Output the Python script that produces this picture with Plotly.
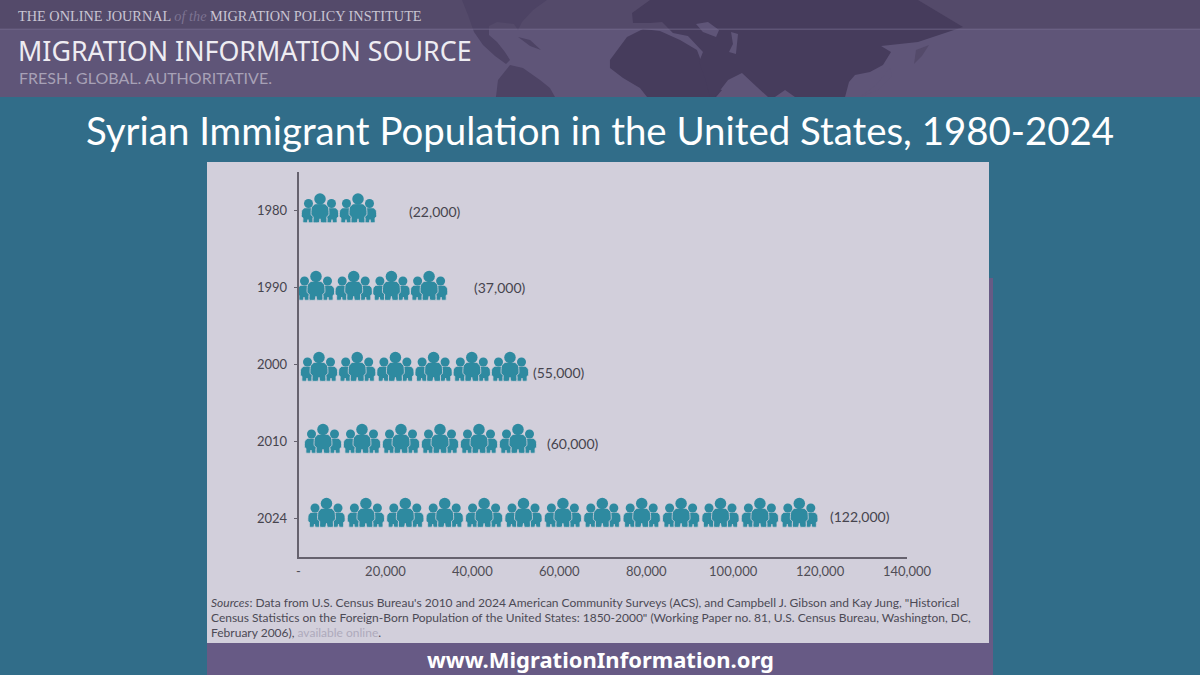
"""Syrian immigrant population in the United States, pictogram slide"""

import plotly.graph_objs as go

# chart data
years = ["1980", "1990", "2000", "2010", "2024"]
population = [22000, 37000, 55000, 60000, 122000]
icon_counts = [2, 4, 6, 6, 13]
x_tick_values = [0, 20000, 40000, 60000, 80000, 100000, 120000, 140000]
x_tick_labels = ["-", "20,000", "40,000", "60,000", "80,000", "100,000", "120,000", "140,000"]

WIDTH, HEIGHT = 1200, 675
PLOT_LEFT, PLOT_RIGHT, PLOT_TOP, PLOT_BOTTOM = 298.5, 907, 172, 557
X_MAX = 140000
UNITS_PER_PX = X_MAX / (PLOT_RIGHT - PLOT_LEFT)
ROW_PX = (PLOT_BOTTOM - PLOT_TOP) / len(years)

TEAL = "#316d89"
PANEL = "#d2cfdb"
PURPLE = "#675a85"
HEADER = "#5f5578"
HEADER_TOP = "#544a6a"
LAND = "#463c5c"
LAND_FADED = "#4d4364"
ICON = "#2e8aa0"
AXIS = "#66626e"
TEXT = "#46444e"

# where each row of icons and its label sit in the picture, in pixels
ROW_FIRST_ICON = [320, 316, 319, 323, 326.5]
ROW_ICON_STEP = [38, 37.7, 38.2, 39, 39.4]
ROW_ICON_BOTTOM = [222.5, 300, 381, 453, 527]
LABEL_LEFT = [409, 474, 533, 547, 830]
LABEL_MIDDLE = [211, 287, 372, 443, 516]

# one person drawn with outline points, unit half width and unit height
BODY = [(-0.6, 0), (0.6, 0), (1, 0.18), (1.05, 0.6), (0.82, 0.68), (0.8, 1), (0.1, 1),
        (0, 0.8), (-0.1, 1), (-0.8, 1), (-0.82, 0.68), (-1.05, 0.6), (-1, 0.18), (-0.6, 0)]

# rough outlines of the map behind the header, in pixels
NORTH_AMERICA = [(462, 0), (547, 0), (533, 10), (522, 22), (518, 30), (514, 24), (497, 22), (489, 26),
                 (489, 35), (497, 42), (505, 52), (510, 60), (506, 64), (495, 56), (483, 45), (474, 32), (468, 15)]
CARIBBEAN = [(518, 37), (530, 40), (541, 50), (530, 46)]
SOUTH_AMERICA = [(496, 97), (498, 80), (510, 65), (523, 68), (540, 80), (550, 88), (555, 97)]
AFRICA = [(610, 60), (627, 37), (643, 29), (660, 31), (680, 40), (697, 50), (700, 58), (706, 75), (712, 88),
          (722, 90), (716, 97), (647, 97), (640, 88), (623, 78), (610, 68)]
EURASIA = [(650, 0), (918, 0), (963, 27), (918, 42), (881, 46), (891, 52), (883, 65), (870, 72), (855, 75),
           (849, 82), (845, 97), (795, 97), (785, 90), (775, 97), (768, 97), (758, 88), (742, 73), (728, 80),
           (715, 97), (710, 97), (705, 78), (699, 62), (703, 52), (688, 36), (673, 33), (662, 22), (650, 23),
           (633, 23), (632, 13)]
JAPAN = [(860, 97), (876, 85), (890, 68), (892, 76), (878, 90)]
SAKHALIN = [(914, 64), (916, 50), (929, 45), (922, 56)]
BLACK_SEA = [(696, 24), (708, 22), (719, 30), (716, 37), (703, 32)]
CASPIAN = [(731, 32), (738, 34), (736, 54), (729, 52), (733, 44)]

SOURCE_LINES = [
    "<i>Sources</i>: Data from U.S. Census Bureau's 2010 and 2024 American Community Surveys (ACS), "
    "and Campbell J. Gibson and Kay Jung, \"Historical",
    "Census Statistics on the Foreign-Born Population of the United States: 1850-2000\" "
    "(Working Paper no. 81, U.S. Census Bureau, Washington, DC,",
    "February 2006), <span style=\"color:#aeaabb\">available online</span>.",
]


def paper_x(px):
    return px / WIDTH


def paper_y(px):
    return 1 - px / HEIGHT


def rect(x0, y0, x1, y1, color):
    return dict(type="rect", xref="paper", yref="paper", layer="below", line_width=0, fillcolor=color,
                x0=paper_x(x0), x1=paper_x(x1), y0=paper_y(y0), y1=paper_y(y1))


def polygon(points, color):
    path = "M" + "L".join(f"{paper_x(x):.4f},{paper_y(y):.4f}" for x, y in points) + "Z"
    return dict(type="path", xref="paper", yref="paper", layer="below", line_width=0, fillcolor=color, path=path)


def note(text, x, y, size, color, family="Lato", anchor="left"):
    return dict(text=text, x=paper_x(x), y=paper_y(y), xref="paper", yref="paper", xanchor=anchor, yanchor="middle",
                align="left", showarrow=False, borderpad=0, borderwidth=0,
                font=dict(family=family, size=size, color=color))


def to_x(values):
    return [None if v is None else (v - PLOT_LEFT) * UNITS_PER_PX for v in values]


def to_y(values):
    return [None if v is None else (v - PLOT_TOP) / ROW_PX - 0.5 for v in values]


def add_body(xs, ys, center_px, bottom_px, half_width, height):
    for dx, dy in BODY:
        xs.append(center_px + dx * half_width)
        ys.append(bottom_px - height + dy * height)
    xs.append(None)
    ys.append(None)


def body_trace(xs, ys, hover):
    return go.Scatter(x=to_x(xs), y=to_y(ys), mode="lines", fill="toself", fillcolor=ICON,
                      line=dict(color=PANEL, width=0.8, shape="spline", smoothing=0.5),
                      hovertemplate=hover, showlegend=False)


def row_traces(row):
    side_x, side_y, middle_x, middle_y = [], [], [], []
    head_x, head_y, head_size = [], [], []
    bottom = ROW_ICON_BOTTOM[row]
    for i in range(icon_counts[row]):
        center = ROW_FIRST_ICON[row] + i * ROW_ICON_STEP[row]
        add_body(side_x, side_y, center - 12, bottom, 6.2, 14.5)
        add_body(side_x, side_y, center + 12, bottom, 6.2, 14.5)
        add_body(middle_x, middle_y, center, bottom, 8.4, 18.5)
        for offset, rise, size in ((-11.5, 19, 9), (11.5, 19, 9), (0, 23.5, 11.5)):
            head_x.append(center + offset)
            head_y.append(bottom - rise)
            head_size.append(size)

    hover = f"{years[row]}: {population[row]:,}<extra></extra>"
    heads = go.Scatter(x=to_x(head_x), y=to_y(head_y), mode="markers",
                       marker=dict(color=ICON, size=head_size, opacity=1, line_width=0),
                       hovertemplate=hover, showlegend=False)
    return [body_trace(side_x, side_y, hover), body_trace(middle_x, middle_y, hover), heads]


traces = []
for row in range(len(years)):
    traces.extend(row_traces(row))

shapes = [
    rect(0, 0, WIDTH, 97, HEADER),
    rect(0, 0, WIDTH, 29, HEADER_TOP),
    polygon(NORTH_AMERICA, LAND_FADED),
    polygon(CARIBBEAN, LAND_FADED),
    polygon(SOUTH_AMERICA, LAND_FADED),
    polygon(AFRICA, LAND),
    polygon(EURASIA, LAND),
    polygon(JAPAN, HEADER),
    polygon(SAKHALIN, HEADER_TOP),
    polygon(BLACK_SEA, HEADER),
    polygon(CASPIAN, HEADER),
    rect(0, 28.7, WIDTH, 29.5, "#766d8e"),
    rect(989, 278, 993, 643, PURPLE),
    rect(207, 162, 989, 643, PANEL),
    rect(207, 643, 993, 675, PURPLE),
]

annotations = [
    note("THE ONLINE JOURNAL <i><span style=\"color:#7d7492\">of the</span></i> MIGRATION POLICY INSTITUTE",
         18, 16, 14.3, "#c9c5d3", family="Liberation Serif"),
    note("MIGRATION INFORMATION SOURCE", 18, 50.5, 26.8, "#eeecf2", family="Noto Sans"),
    note("FRESH. GLOBAL. AUTHORITATIVE.", 19, 78, 16, "#a7a1b6", family="Lato"),
    note("Syrian Immigrant Population in the United States, 1980-2024", 600, 130, 38.4, "#ffffff", anchor="center"),
    note("<b>www.MigrationInformation.org</b>", 600, 659, 22, "#ffffff", family="Noto Sans", anchor="center"),
]
for line, middle in zip(SOURCE_LINES, [602, 617, 632]):
    annotations.append(note(line, 210.5, middle, 12, "#4c4a55"))

for row, value in enumerate(population):
    annotations.append(dict(text=f"({value:,})", x=(LABEL_LEFT[row] - PLOT_LEFT) * UNITS_PER_PX,
                            y=(LABEL_MIDDLE[row] - PLOT_TOP) / ROW_PX - 0.5, xref="x", yref="y",
                            xanchor="left", yanchor="middle", showarrow=False, borderpad=0, borderwidth=0,
                            font=dict(family="Lato", size=14, color=TEXT)))

fig = go.Figure(
    data=traces,
    layout=go.Layout(
        width=WIDTH,
        height=HEIGHT,
        margin=dict(l=0, r=0, t=0, b=0, autoexpand=False),
        paper_bgcolor=TEAL,
        plot_bgcolor="rgba(0,0,0,0)",
        showlegend=False,
        shapes=shapes,
        annotations=annotations,
        xaxis=dict(
            domain=[PLOT_LEFT / WIDTH, PLOT_RIGHT / WIDTH],
            range=[0, X_MAX],
            tickvals=x_tick_values,
            ticktext=x_tick_labels,
            ticks="",
            showgrid=False,
            zeroline=False,
            showline=True,
            linecolor=AXIS,
            linewidth=1.5,
            ticklabelstandoff=2,
            tickfont=dict(family="Lato", size=13, color="#4f4d56"),
        ),
        yaxis=dict(
            domain=[1 - PLOT_BOTTOM / HEIGHT, 1 - PLOT_TOP / HEIGHT],
            range=[len(years) - 0.5, -0.5],
            tickvals=list(range(len(years))),
            ticktext=years,
            ticks="outside",
            ticklen=3,
            tickcolor=AXIS,
            showgrid=False,
            zeroline=False,
            showline=True,
            linecolor=AXIS,
            linewidth=1.5,
            ticklabelstandoff=4,
            tickfont=dict(family="Lato", size=13, color=TEXT),
        ),
    ),
)

# the page's default margin would push the slide off the window
fig.write_html("out.html", config=dict(displayModeBar=False),
               post_script="document.body.style.margin='0';document.body.style.overflow='hidden';")
